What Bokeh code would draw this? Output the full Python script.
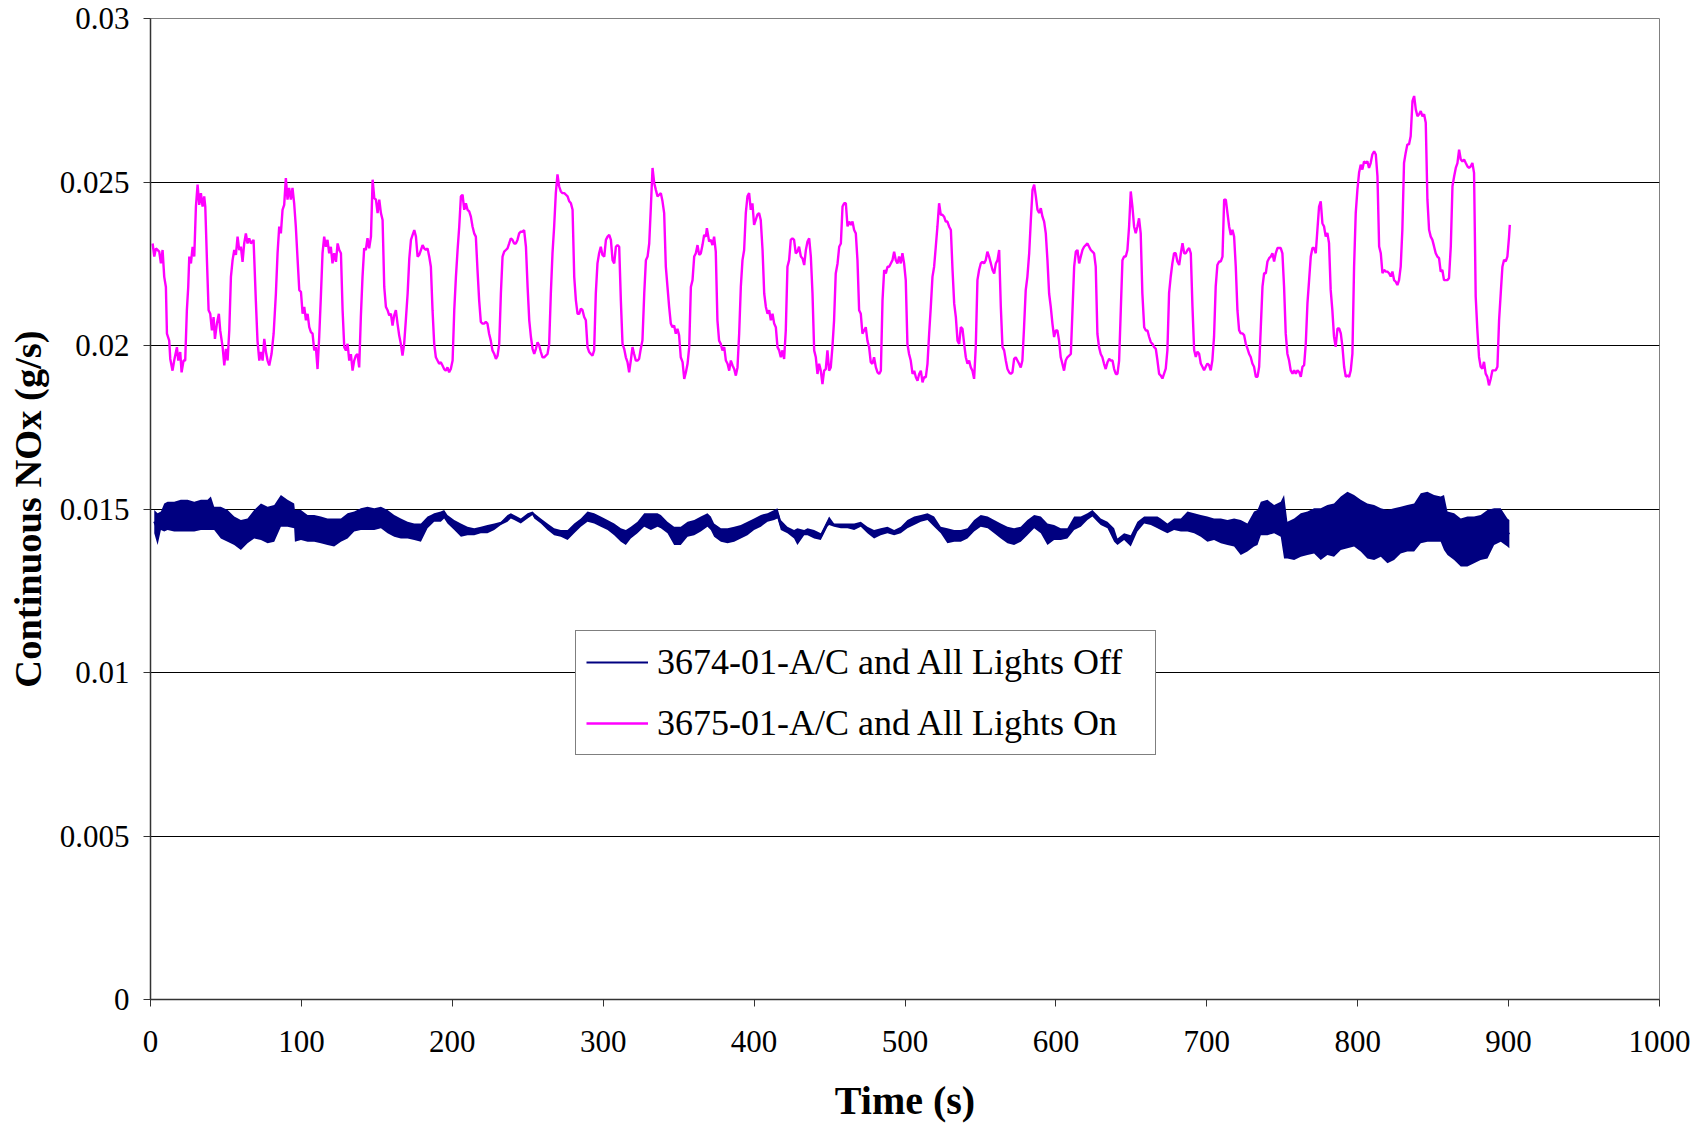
import numpy as np
from bokeh.plotting import figure
from bokeh.models import (Range1d, FixedTicker, CustomJSTickFormatter,
                          Legend, LegendItem)
from bokeh.embed import file_html
from bokeh.resources import INLINE

# ---------------------------------------------------------------------------
# Continuous NOx, test 3675-01 (A/C and all lights on); time in s, NOx in mg/s
# ---------------------------------------------------------------------------
on_time_s = [
    1.4, 2.5, 3.6, 5.8, 6.9, 8.0, 9.1, 10.2, 10.9, 12.4, 13.1, 14.6, 15.7, 17.5, 18.4, 19.7,
    20.6, 21.9, 23.0, 24.1, 25.0, 25.7, 26.8, 27.9, 29.0, 30.1, 31.2, 32.3, 33.4, 34.5, 35.6,
    36.3, 37.4, 38.5, 39.6, 40.7, 41.8, 42.7, 44.0, 45.3, 46.2, 47.8, 48.9, 50.0, 51.1, 52.2,
    53.3, 54.4, 55.5, 56.6, 57.7, 58.8, 59.9, 61.0, 62.1, 63.2, 64.3, 65.4, 66.5, 68.3, 69.8,
    70.9, 72.1, 73.2, 74.3, 75.4, 76.5, 77.6, 78.7, 80.2, 81.6, 83.1, 84.2, 85.3, 86.4, 87.5,
    88.6, 89.7, 90.8, 91.9, 93.0, 94.1, 95.2, 96.3, 97.5, 98.6, 99.7, 100.8, 101.9, 103.0,
    104.1, 105.2, 106.3, 107.4, 108.5, 109.6, 110.7, 111.8, 112.9, 114.0, 115.1, 116.2, 117.3,
    118.4, 119.5, 120.6, 121.7, 122.9, 124.0, 125.1, 126.2, 127.3, 128.4, 129.5, 130.6, 131.7,
    132.8, 133.9, 135.0, 136.1, 137.2, 138.3, 139.4, 140.5, 141.6, 142.7, 143.8, 144.9, 146.1,
    147.2, 148.3, 149.4, 150.5, 151.6, 152.7, 153.8, 154.9, 156.0, 157.1, 158.2, 159.3, 160.4,
    161.5, 162.6, 163.7, 164.8, 165.9, 167.0, 168.1, 169.2, 170.4, 171.5, 172.6, 173.7, 174.8,
    175.9, 177.0, 178.1, 179.2, 180.3, 181.4, 182.5, 183.6, 184.7, 185.8, 186.9, 188.0, 189.1,
    190.2, 191.3, 192.4, 193.5, 194.6, 195.7, 196.8, 197.9, 199.0, 200.2, 201.3, 202.4, 203.5,
    204.6, 205.7, 206.8, 207.9, 209.0, 210.1, 211.2, 212.3, 213.4, 214.5, 215.6, 216.7, 217.8,
    218.9, 220.0, 221.1, 222.2, 223.3, 224.4, 225.5, 226.6, 227.8, 228.9, 230.0, 231.1, 232.2,
    233.3, 234.4, 235.5, 236.6, 237.7, 238.8, 239.9, 241.0, 242.1, 243.2, 244.3, 245.4, 246.5,
    247.6, 248.8, 249.9, 251.0, 252.1, 253.2, 254.3, 255.4, 256.5, 257.6, 258.7, 259.8, 260.9,
    262.0, 263.1, 264.2, 265.3, 266.4, 267.5, 268.6, 269.7, 270.8, 271.9, 273.0, 274.2, 275.3,
    276.4, 277.5, 278.6, 279.7, 280.8, 281.9, 283.0, 284.1, 285.2, 286.3, 287.4, 288.5, 289.6,
    290.7, 291.8, 292.9, 294.0, 295.1, 296.2, 297.3, 298.4, 299.5, 300.7, 301.8, 302.9, 304.0,
    305.1, 306.2, 307.3, 308.4, 309.5, 310.6, 311.7, 312.8, 313.9, 315.0, 316.1, 317.2, 318.3,
    319.4, 320.5, 321.6, 322.7, 323.8, 324.9, 326.0, 327.2, 328.3, 329.4, 330.5, 331.6, 332.7,
    333.8, 334.9, 336.0, 337.1, 338.2,
    339.3, 340.4, 341.5, 342.6, 343.7, 344.8, 345.9, 347.0, 348.1, 349.2, 350.3, 351.4, 352.6,
    353.7, 354.8, 355.9, 357.0, 358.1, 359.2, 360.3, 361.4, 362.5, 363.6, 364.7, 365.8, 366.9,
    368.0, 368.7, 370.2, 371.3, 372.4, 373.5, 374.6, 375.7, 376.8, 377.9, 379.0, 380.2, 381.3,
    382.4, 383.5, 384.6, 385.7, 386.8, 387.9, 389.0, 390.1, 391.2, 392.3, 393.4, 394.5, 395.6,
    396.7, 397.8, 398.9, 400.0, 401.1, 402.2, 403.3, 404.4, 405.6, 406.7, 407.8, 408.9, 410.0,
    411.1, 412.2, 413.3, 414.4, 415.5, 416.6, 417.7, 418.8, 419.9, 421.0, 422.1, 423.2, 424.3,
    425.4, 426.5, 427.6, 428.7, 429.8, 431.0, 432.1, 433.2, 434.3, 435.4, 436.5, 437.6, 438.7,
    439.8, 440.9, 442.0, 443.1, 444.2, 445.3, 446.4, 447.5, 448.6, 449.7, 450.8, 451.9, 453.0,
    454.1, 455.3, 456.4, 457.5, 458.6, 459.7, 460.8, 461.9, 463.0, 464.1, 465.2, 466.3, 467.4,
    468.5, 469.6, 470.7, 471.8, 472.9, 474.0, 475.1, 476.2, 477.3, 478.4, 479.5, 480.7, 481.8,
    482.9, 484.0, 485.1, 486.2, 487.3, 488.4, 489.5, 490.6, 491.7, 492.8, 493.9, 495.0, 496.1,
    497.2, 498.3, 499.4, 500.5, 501.6, 502.7, 503.8, 505.0, 506.1, 507.2, 508.3, 509.4, 510.5,
    511.6, 512.7, 513.8, 514.9, 516.0, 517.1, 518.2, 519.3, 520.4, 521.5, 522.6, 523.7, 524.8,
    525.9, 527.0, 528.1, 529.2, 530.4, 531.5, 532.6, 533.7, 534.8, 535.9, 537.0, 538.1, 539.2,
    540.3, 541.4, 542.5, 543.6, 544.7, 545.8, 546.9, 548.0, 549.1, 550.2, 551.3, 552.4, 553.5,
    554.6, 555.7, 556.9, 558.0, 559.1, 560.2, 561.3, 562.4, 563.5, 564.6, 565.7, 566.8, 567.9,
    569.0, 570.1, 571.2, 572.3, 573.4, 574.5, 575.6, 576.7, 577.8, 578.9, 580.0, 581.1, 582.3,
    583.4, 584.5, 585.6, 586.7, 587.8, 588.9, 590.0, 591.1, 592.2, 593.3, 594.4, 595.5, 596.6,
    597.7, 598.8, 599.9, 601.0, 602.1, 603.2, 604.3, 605.4, 606.5, 607.6, 608.8, 609.9, 611.0,
    612.1, 613.2, 614.3, 615.4, 616.5, 617.6, 618.7, 619.8, 620.9, 622.0, 623.1, 624.2, 625.3,
    626.4, 627.5, 628.6, 629.7, 630.8, 631.9, 633.0, 634.2, 635.3, 636.4, 637.5, 638.6, 639.7,
    640.8, 641.9, 643.0, 644.1, 645.2, 646.3, 647.4, 648.5, 649.6, 650.7, 651.8, 652.9, 654.0,
    655.1, 656.2, 657.3, 658.5, 659.6, 660.7, 661.8, 662.9, 664.0, 665.1, 666.2, 667.3, 668.4,
    669.5,
    670.6, 671.7, 672.8, 673.9, 675.0, 676.1, 677.2, 678.3, 679.4, 680.5, 681.7, 682.8, 683.9,
    685.0, 686.1, 687.2, 688.3, 689.4, 690.5, 691.6, 692.7, 693.8, 694.9, 696.0, 697.1, 698.2,
    699.3, 700.4, 701.5, 702.6, 703.7, 704.8, 705.9, 707.0, 708.2, 709.3, 710.4, 711.5, 712.6,
    713.7, 714.8, 715.9, 717.0, 718.1, 719.2, 720.3, 721.4, 722.5, 723.6, 724.7, 725.8, 726.9,
    728.0, 729.1, 730.2, 731.3, 732.5, 733.6, 734.7, 735.8, 736.9, 738.0, 739.1, 740.2, 741.3,
    742.4, 743.5, 744.6, 745.7, 746.8, 747.9, 749.0, 750.1, 751.2, 752.3, 753.4, 754.5, 755.6,
    756.8, 757.9, 759.0, 760.1, 761.2, 762.3, 763.4, 764.5, 765.6, 766.7, 767.8, 768.9, 770.0,
    771.1, 772.2, 773.3, 774.4, 775.5, 776.6, 777.7, 778.8, 779.9, 781.0, 782.1, 783.2, 784.3,
    785.4, 786.6, 787.7, 788.8, 789.9, 791.0, 792.1, 793.2, 794.3, 795.4, 796.5, 797.6, 798.7,
    799.8, 800.9, 802.0, 803.1, 804.2, 805.3, 806.4, 807.5, 808.6, 809.7, 810.9, 812.0, 813.1,
    814.2, 815.3, 816.4, 817.5, 818.6, 819.7, 820.8, 821.9, 823.0, 824.1, 825.2, 826.3, 827.4,
    828.5, 829.6, 830.7, 831.8, 832.9, 834.0, 835.1, 836.3, 837.4, 838.5, 839.6, 840.7, 841.8,
    842.9, 844.0, 845.1, 846.2, 847.3, 848.4, 849.5, 850.6, 851.7, 852.8, 853.9, 855.0, 856.1,
    857.2, 858.3, 859.4, 860.5, 861.7, 862.8, 863.9, 865.0, 866.1, 867.2, 868.3, 869.4, 870.5,
    871.6, 872.7, 873.8, 874.9, 876.0, 877.1, 878.2, 879.3, 880.4, 881.5, 882.6, 883.7, 884.8,
    885.9, 887.0, 888.2, 889.3, 890.4, 891.5, 892.6, 893.7, 894.8, 895.9, 897.0, 898.1, 899.2,
    900.3, 900.8,
]
on_nox_mg = [
    23.12, 22.72, 22.97, 22.87, 22.51, 22.92, 22.10, 21.79, 20.36, 20.15, 19.59, 19.23, 19.54, 19.95, 19.54, 19.80,
    19.18, 19.54, 19.54, 21.08, 21.79, 22.72, 22.51, 23.02, 22.72, 24.25, 24.92, 24.30, 24.66, 24.25, 24.56,
    24.25, 22.61, 21.08, 20.97, 20.46, 20.87, 20.20, 20.67, 20.97, 20.46, 19.95, 19.39, 19.90, 19.54, 20.46,
    22.10, 22.61, 22.92, 22.77, 23.33, 22.92, 23.02, 22.56, 23.12, 23.43, 23.12, 23.28, 23.12, 23.23, 21.38,
    20.15, 19.54, 19.80, 19.54, 20.20, 19.80, 19.54, 19.39, 19.74, 20.36, 21.59, 22.82, 23.64, 23.43, 24.15,
    24.30, 25.12, 24.46, 24.82, 24.46, 24.82, 24.35, 23.64, 22.61, 21.69, 21.64, 20.97, 21.18, 20.77,
    20.97, 20.56, 20.41, 20.36, 19.85, 19.95, 19.28, 20.26, 21.49, 22.82, 23.33, 23.02, 23.23,
    22.82, 23.02, 22.51, 22.82, 22.56, 23.12, 22.92, 22.82, 21.08, 19.95, 19.85, 20.05, 19.54,
    19.74, 19.23, 19.54, 19.69, 19.74, 19.33, 20.87, 22.10, 22.97, 22.92, 23.28, 22.97, 23.33,
    25.07, 24.51, 24.46, 24.05, 24.46, 24.05, 23.84, 21.79, 21.18, 21.08, 20.92, 20.97, 20.61,
    20.92, 21.08, 20.67, 20.31, 20.05, 19.69, 20.05, 20.77, 21.59, 22.66, 23.23, 23.38, 23.53,
    23.33, 22.72, 22.77, 22.92, 23.07, 22.97, 22.92, 22.97, 22.72, 22.41, 21.08, 20.05, 19.64,
    19.54, 19.44, 19.49, 19.39, 19.28, 19.23, 19.33, 19.18, 19.28, 19.54, 21.08, 22.10, 22.92,
    23.64, 24.56, 24.61, 24.15, 24.35, 24.15, 24.10, 23.94, 23.64, 23.43, 23.33, 22.31, 21.38,
    20.72, 20.67, 20.67, 20.72, 20.67, 20.36, 20.15, 19.85, 19.74, 19.59, 19.69, 20.05, 21.59,
    22.72, 22.87, 22.92, 22.97, 23.12, 23.28, 23.23, 23.12, 23.12, 23.23, 23.43, 23.48, 23.48,
    23.53, 23.02, 21.79, 20.77, 20.26, 19.90, 19.74, 19.90, 20.10, 20.00, 19.80, 19.64, 19.64,
    19.69, 19.74, 20.05, 21.59, 22.82, 23.64, 24.66, 25.23, 24.87, 24.71, 24.66, 24.66, 24.61,
    24.56, 24.41, 24.35, 24.15, 22.10, 21.38, 20.97, 20.97, 21.13, 21.08, 20.87, 20.77, 19.95,
    19.80, 19.74, 19.69, 19.85, 21.59, 22.51, 22.82, 23.02, 22.77, 22.72, 23.23, 23.33, 23.38,
    23.23, 22.61, 22.51, 23.02, 23.07, 23.02, 21.38, 20.05, 19.90, 19.64, 19.49, 19.18, 19.54,
    19.95, 19.74, 19.54, 19.54, 19.59, 19.90, 20.15, 21.59, 22.61, 22.72, 23.12, 24.25, 25.43,
    24.97, 24.76, 24.56, 24.61, 24.66,
    24.41, 24.05, 22.41, 21.79, 21.18, 20.67, 20.56, 20.61, 20.36, 20.51, 20.31, 19.64, 19.49,
    18.98, 19.18, 19.44, 19.95, 21.79, 22.00, 22.72, 22.82, 23.07, 22.77, 22.82, 23.07, 23.38,
    23.33, 23.59, 23.18, 23.23, 23.07, 23.33, 22.87, 20.77, 20.15, 20.05, 19.85, 19.95, 19.54,
    19.44, 19.23, 19.54, 19.39, 19.28, 19.08, 19.33, 20.36, 21.79, 22.61, 22.92, 24.05, 24.56,
    24.66, 24.15, 24.35, 23.69, 23.84, 24.00, 24.05, 23.84, 22.92, 21.59, 21.18, 20.97, 21.08,
    20.77, 20.97, 20.67, 20.56, 19.95, 19.85, 19.64, 19.85, 19.59, 20.46, 22.41, 22.61, 23.23,
    23.28, 23.23, 22.82, 22.87, 23.02, 22.72, 22.66, 22.46, 22.92, 23.18, 23.28, 22.72, 21.59,
    19.85, 19.64, 19.13, 19.44, 19.23, 18.82, 19.23, 19.28, 19.85, 19.23, 19.33, 19.95, 20.77,
    22.20, 22.51, 23.02, 23.12, 24.25, 24.35, 24.35, 23.64, 23.79, 23.69, 23.79, 23.53, 23.43,
    22.61, 21.08, 20.97, 20.36, 20.46, 20.56, 20.15, 19.95, 19.49, 19.44, 19.64, 19.33, 19.18,
    19.13, 19.23, 21.38, 22.31, 22.20, 22.41, 22.41, 22.51, 22.61, 22.87, 22.61, 22.51, 22.72,
    22.51, 22.82, 22.51, 22.00, 20.05, 19.74, 19.54, 19.13, 19.23, 19.03, 18.92, 19.13, 19.23,
    18.87, 19.03, 19.03, 19.44, 20.36, 21.18, 22.10, 22.41, 23.02, 23.64, 24.35, 24.00, 24.00,
    23.94, 23.79, 23.79, 23.64, 23.53, 22.31, 21.28, 20.87, 20.15, 20.05, 20.56, 20.51, 20.05,
    19.64, 19.44, 19.54, 19.33, 19.23, 18.98, 19.95, 22.00, 22.31, 22.51, 22.56, 22.51, 22.61,
    22.87, 22.72, 22.51, 22.31, 22.20, 22.51, 22.61, 22.92, 21.18, 19.95, 19.85, 19.54, 19.28,
    19.18, 19.13, 19.18, 19.59, 19.64, 19.54, 19.44, 19.33, 19.54, 20.56, 21.69, 22.10, 22.82,
    23.84, 24.76, 24.92, 24.56, 24.15, 24.05, 24.20, 23.94, 23.79, 23.43, 22.61, 21.59, 21.18,
    20.67, 20.26, 20.46, 20.46, 20.15, 19.64, 19.44, 19.23, 19.54, 19.64, 19.69, 19.74, 21.08,
    22.41, 22.87, 22.92, 22.51, 22.72, 22.92, 23.02, 23.07, 23.12, 23.02, 22.92, 22.87, 22.82,
    22.41, 20.36, 19.95, 19.74, 19.64, 19.44, 19.28, 19.49, 19.59, 19.54, 19.54, 19.28, 19.13,
    19.13, 19.54, 21.08, 22.61, 22.72, 22.72, 22.92, 23.64, 24.71, 24.25, 23.64, 23.43, 23.64,
    23.89, 23.43, 21.59, 20.56, 20.46, 20.46, 20.26, 20.10, 20.05, 19.95, 19.90, 19.54, 19.13,
    19.08,
    18.99, 19.14, 19.29, 19.86, 21.60, 22.11, 22.52, 22.82, 22.82, 22.57, 22.46, 22.82, 23.13,
    22.82, 22.82, 22.92, 22.98, 22.82, 21.19, 19.86, 19.65, 19.81, 19.75, 19.45, 19.35, 19.24,
    19.35, 19.45, 19.40, 19.24, 19.55, 20.27, 21.80, 22.46, 22.57, 22.57, 22.72, 24.46, 24.46,
    24.05, 23.64, 23.38, 23.54, 23.33, 22.41, 21.08, 20.47, 20.37, 20.37, 20.32, 20.06, 19.91,
    19.75, 19.65, 19.45, 19.35, 19.04, 19.04, 19.35, 20.57, 21.80, 22.21, 22.21, 22.57, 22.67,
    22.72, 22.82, 22.57, 22.82, 22.98, 22.98, 22.98, 22.82, 21.80, 20.37, 19.75, 19.55, 19.24,
    19.14, 19.24, 19.14, 19.24, 19.19, 19.04, 19.35, 19.40, 20.06, 21.29, 22.00, 22.72, 22.98,
    22.98, 22.82, 23.54, 24.25, 24.41, 23.74, 23.64, 23.33, 23.44, 23.13, 21.70, 21.08, 20.27,
    19.96, 20.52, 20.52, 20.37, 19.96, 19.35, 19.04, 19.09, 19.04, 19.24, 19.75, 22.41, 24.05,
    24.76, 25.28, 25.53, 25.38, 25.63, 25.58, 25.63, 25.43, 25.58, 25.84, 25.94, 25.84, 25.17,
    23.03, 22.82, 22.21, 22.31, 22.26, 22.26, 22.21, 22.11, 22.26, 22.00, 21.95, 21.85, 22.00,
    22.41, 23.54, 25.58, 25.89, 26.15, 26.15, 26.40, 27.47, 27.63, 27.22, 27.01, 27.07, 27.17,
    27.01, 27.07, 26.81, 24.46, 23.54, 23.33, 23.23, 23.03, 22.82, 22.72, 22.67, 22.26, 22.31,
    22.00, 22.00, 22.00, 22.06, 23.03, 24.87, 25.17, 25.43, 25.58, 25.99, 25.69, 25.63, 25.69,
    25.58, 25.48, 25.43, 25.48, 25.58, 25.28, 21.49, 20.47, 19.65, 19.35, 19.29, 19.50, 19.14,
    19.04, 18.78, 18.99, 19.24, 19.24, 19.24, 19.35, 20.78, 21.60, 22.41, 22.62, 22.57, 22.72,
    23.33, 23.69,
]

# ---------------------------------------------------------------------------
# Continuous NOx, test 3674-01 (A/C and all lights off): noisy trace given by
# its lower and upper envelope, mg/s
# ---------------------------------------------------------------------------
off_time_s = [
    2.5, 4.7, 6.9, 9.1, 11.3, 15.7, 20.1, 24.6, 29.0, 33.4, 37.8, 40.0, 42.2, 46.6, 51.1, 55.5,
    59.9, 64.3, 68.7, 73.2, 77.6, 82.0, 86.4, 90.8, 95.2, 95.7, 99.7, 104.1, 108.5, 112.9, 117.3,
    121.7, 126.2, 130.6, 135.0, 139.4, 143.8, 148.3, 152.7, 157.1, 161.5, 165.9, 170.4, 174.8,
    179.2, 183.6, 185.8, 188.0, 192.4, 194.6, 196.8, 201.3, 205.7, 210.1, 214.5, 218.9, 223.3,
    227.8, 232.2, 236.6, 238.8, 241.0, 245.4, 249.9, 253.2, 254.3, 258.7, 263.1, 267.5, 271.9,
    276.4, 280.8, 285.2, 289.6, 294.0, 298.4, 302.9, 307.3, 311.7, 315.0, 318.3, 322.7, 327.2,
    331.6, 336.0, 338.2,
    342.6, 347.0, 351.4, 355.9, 360.3, 364.7, 369.1, 371.3, 373.5, 378.0, 382.4, 386.8, 391.2,
    395.6, 400.0, 404.5, 408.9, 413.3, 415.5, 417.7, 422.1, 426.5, 428.7, 433.2, 435.4, 439.8,
    444.2, 448.6, 449.7, 453.0, 457.5, 461.9, 466.3, 470.7, 475.1, 479.5, 483.9, 488.4, 492.8,
    497.2, 501.6, 506.1, 510.5, 514.9, 519.3, 523.7, 528.1, 532.6, 537.0, 541.4, 545.8, 550.2,
    554.8, 559.1, 563.5, 567.9, 572.3, 576.7, 581.1, 585.6, 590.0, 594.4, 598.8, 603.2, 607.6,
    612.1, 616.5, 620.9, 624.2, 627.5, 629.7, 634.2, 638.6, 640.8, 645.2, 649.6, 654.0, 658.5,
    662.9, 667.3, 669.5,
    673.9, 678.3, 682.8, 687.2, 691.6, 696.0, 700.4, 704.8, 709.3, 713.7, 718.1, 722.5, 726.9,
    731.3, 733.6, 735.8, 740.2, 744.6, 749.0, 751.2, 753.4, 757.9, 762.3, 766.7, 771.1, 775.5,
    779.9, 784.3, 788.8, 793.2, 797.6, 802.0, 806.4, 810.9, 815.3, 819.7, 824.1, 828.5, 832.9,
    837.4, 841.8, 846.2, 850.6, 855.0, 857.2, 859.5, 863.9, 868.3, 872.7, 877.1, 881.5, 886.0,
    890.4, 894.8, 899.2, 900.5,
]
off_high_mg = [
    14.97, 14.87, 14.92, 15.17, 15.22, 15.22, 15.28, 15.28, 15.22, 15.28, 15.28, 15.38, 15.07, 15.07, 14.97, 14.77,
    14.66, 14.71, 14.97, 15.17, 15.07, 15.12, 15.43, 15.28, 15.17, 14.97, 14.97, 14.82, 14.82, 14.77, 14.71,
    14.71, 14.71, 14.87, 14.92, 15.02, 15.07, 15.02, 15.07, 14.97, 14.82, 14.71, 14.61, 14.56,
    14.56, 14.77, 14.82, 14.87, 14.92, 14.97, 14.82, 14.66, 14.56, 14.46, 14.41, 14.46, 14.51,
    14.56, 14.61, 14.82, 14.87, 14.82, 14.71, 14.87, 14.92, 14.87, 14.71, 14.56, 14.41, 14.36,
    14.36, 14.56, 14.71, 14.92, 14.87, 14.77, 14.66, 14.56, 14.41, 14.36, 14.46, 14.61, 14.87,
    14.87, 14.87, 14.82,
    14.61, 14.46, 14.46, 14.61, 14.66, 14.77, 14.87, 14.77, 14.56, 14.41, 14.41, 14.46, 14.51,
    14.61, 14.71, 14.82, 14.87, 14.97, 15.02, 14.66, 14.46, 14.36, 14.41, 14.36, 14.41, 14.36,
    14.26, 14.66, 14.77, 14.56, 14.56, 14.56, 14.56, 14.61, 14.46, 14.36, 14.41, 14.46, 14.36,
    14.46, 14.66, 14.77, 14.82, 14.87, 14.77, 14.46, 14.41, 14.36, 14.36, 14.41, 14.66, 14.82,
    14.77, 14.66, 14.56, 14.46, 14.41, 14.46, 14.66, 14.82, 14.77, 14.56, 14.51, 14.41, 14.41,
    14.77, 14.77, 14.87, 14.97, 14.82, 14.71, 14.61, 14.41, 14.10, 14.26, 14.20, 14.61, 14.77,
    14.77, 14.77, 14.71,
    14.56, 14.71, 14.71, 14.92, 14.87, 14.82, 14.77, 14.71, 14.71, 14.66, 14.71, 14.66, 14.56,
    14.92, 14.97, 15.22, 15.28, 15.12, 15.22, 15.43, 14.61, 14.71, 14.87, 14.92, 15.02, 15.02,
    15.12, 15.17, 15.38, 15.53, 15.43, 15.28, 15.17, 15.12, 15.02, 14.97, 15.02, 15.07, 15.12,
    15.17, 15.48, 15.53, 15.43, 15.38, 15.43, 14.92, 14.87, 14.71, 14.77, 14.77, 14.82, 14.97,
    15.02, 15.02, 14.71, 14.66,
]
off_low_mg = [
    14.26, 13.90, 14.36, 14.31, 14.36, 14.31, 14.31, 14.31, 14.31, 14.36, 14.36, 14.36, 14.36, 14.10, 14.00, 13.90,
    13.75, 13.95, 14.10, 14.05, 13.95, 14.00, 14.46, 14.46, 14.41, 14.00, 14.05, 14.00, 14.00, 13.95, 13.90,
    13.85, 14.00, 14.10, 14.31, 14.36, 14.36, 14.36, 14.41, 14.26, 14.15, 14.10, 14.10, 14.05,
    14.00, 14.41, 14.51, 14.61, 14.61, 14.71, 14.56, 14.36, 14.15, 14.20, 14.20, 14.26, 14.26,
    14.36, 14.51, 14.61, 14.71, 14.66, 14.56, 14.71, 14.82, 14.71, 14.56, 14.36, 14.20, 14.15,
    14.05, 14.26, 14.46, 14.61, 14.56, 14.46, 14.36, 14.20, 14.00, 13.90, 14.10, 14.26, 14.46,
    14.36, 14.46, 14.41,
    14.26, 13.90, 13.90, 14.15, 14.20, 14.31, 14.46, 14.36, 14.15, 14.00, 13.95, 14.00, 14.10,
    14.20, 14.36, 14.46, 14.61, 14.66, 14.71, 14.36, 14.26, 14.10, 13.90, 14.20, 14.20, 14.10,
    14.05, 14.46, 14.51, 14.46, 14.41, 14.41, 14.36, 14.46, 14.26, 14.10, 14.20, 14.26, 14.20,
    14.26, 14.41, 14.51, 14.61, 14.66, 14.46, 14.26, 13.95, 14.00, 14.00, 14.10, 14.31, 14.46,
    14.41, 14.26, 14.10, 13.95, 13.90, 14.00, 14.20, 14.41, 14.26, 13.90, 14.05, 14.05, 14.10,
    14.36, 14.46, 14.66, 14.77, 14.61, 14.51, 14.41, 14.00, 13.90, 14.05, 13.85, 14.31, 14.56,
    14.51, 14.41, 14.36,
    14.26, 14.36, 14.31, 14.31, 14.26, 14.15, 14.00, 14.05, 13.95, 13.90, 13.85, 13.59, 13.70,
    13.85, 13.90, 14.20, 14.20, 14.26, 14.15, 13.49, 13.49, 13.44, 13.54, 13.59, 13.64, 13.44,
    13.59, 13.54, 13.75, 13.80, 13.85, 13.70, 13.49, 13.44, 13.54, 13.34, 13.44, 13.64, 13.70,
    13.70, 13.95, 14.00, 14.00, 14.00, 13.75, 13.59, 13.44, 13.24, 13.24, 13.34, 13.44, 13.49,
    13.90, 14.00, 13.85, 13.80,
]

series_labels = ["3674-01-A/C and All Lights Off", "3675-01-A/C and All Lights On"]
series_colors = ["#000080", "#FF00FF"]

x_ticks = [0, 100, 200, 300, 400, 500, 600, 700, 800, 900, 1000]
y_ticks = [0, 0.005, 0.01, 0.015, 0.02, 0.025, 0.03]

SERIF = "Liberation Serif"

# mg/s -> g/s
on_t = np.array(on_time_s)
on_v = np.array(on_nox_mg) / 1000.0
off_t = np.array(off_time_s)
off_hi = np.array(off_high_mg) / 1000.0
off_lo = np.array(off_low_mg) / 1000.0
off_mid = (off_hi + off_lo) / 2.0

p = figure(width=1700, height=1125, output_backend="svg", toolbar_location=None,
           x_range=Range1d(0, 1000), y_range=Range1d(0, 0.03),
           min_border_left=150, min_border_right=41, min_border_top=18,
           min_border_bottom=125, background_fill_color="white",
           border_fill_color="white")

# lights-off trace: dense noise band plus its centre line
p.varea(x=off_t, y1=off_lo, y2=off_hi, fill_color=series_colors[0], fill_alpha=1.0)
r_off = p.line(off_t, off_mid, line_color=series_colors[0], line_width=2.2)
# lights-on trace
r_on = p.line(on_t, on_v, line_color=series_colors[1], line_width=2.4)

# frame, grid
p.outline_line_color = "#808080"
p.outline_line_width = 1
p.xgrid.visible = False
p.ygrid.grid_line_color = "black"
p.ygrid.grid_line_width = 1

# axes
p.xaxis.ticker = FixedTicker(ticks=x_ticks)
p.yaxis.ticker = FixedTicker(ticks=y_ticks)
p.yaxis.formatter = CustomJSTickFormatter(code="return String(parseFloat(tick.toFixed(3)));")
p.xaxis.axis_label = "Time (s)"
p.yaxis.axis_label = "Continuous NOx (g/s)"
for ax in (p.xaxis[0], p.yaxis[0]):
    ax.axis_line_color = "#333333"
    ax.axis_line_width = 1.5
    ax.major_tick_line_color = "#333333"
    ax.major_tick_in = 0
    ax.major_tick_out = 7
    ax.minor_tick_line_color = None
    ax.major_label_text_font = SERIF
    ax.major_label_text_font_size = "31px"
    ax.major_label_text_color = "black"
    ax.axis_label_text_font = SERIF
    ax.axis_label_text_font_style = "bold"
    ax.axis_label_text_color = "black"
p.xaxis.axis_label_text_font_size = "40px"
p.yaxis.axis_label_text_font_size = "38.5px"
p.xaxis.major_label_standoff = 24
p.xaxis.axis_label_standoff = 23
p.yaxis.major_label_standoff = 14
p.yaxis.axis_label_standoff = 8

legend = Legend(
    items=[LegendItem(label=series_labels[0], renderers=[r_off]),
           LegendItem(label=series_labels[1], renderers=[r_on])],
    location=(425, 244), orientation="vertical",
    label_text_font=SERIF, label_text_font_size="36px", label_text_color="black",
    border_line_color="black", border_line_width=1,
    background_fill_color="white", background_fill_alpha=1.0,
    padding=10, spacing=19, margin=0,
    glyph_width=62, glyph_height=40, label_height=40, label_standoff=9,
    label_width=488,
)
p.add_layout(legend)

open("out.html", "w").write(file_html(p, INLINE))
